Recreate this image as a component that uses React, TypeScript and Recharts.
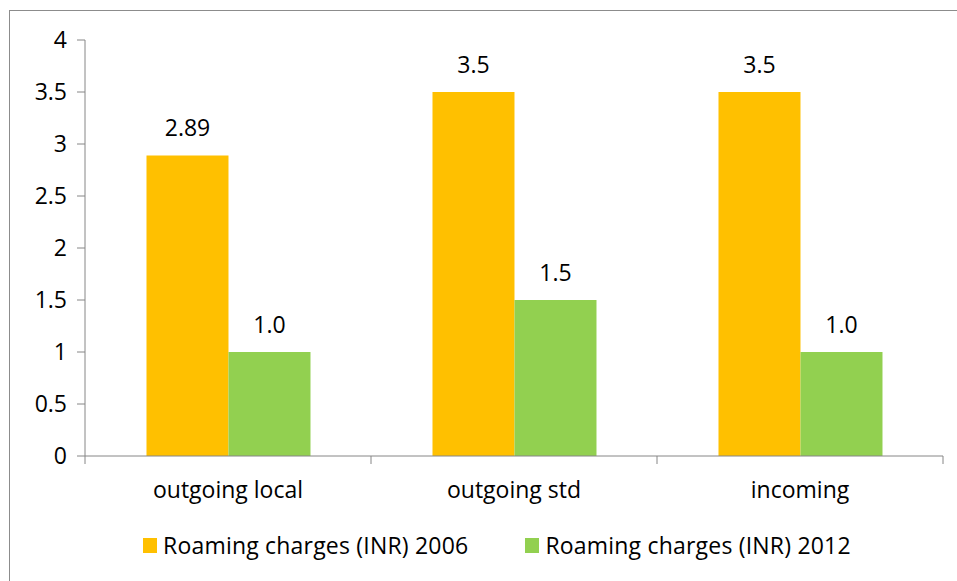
import React from 'react';
import { BarChart, Bar, XAxis, YAxis, Legend, LabelList } from 'recharts';

const categories = ['outgoing local', 'outgoing std', 'incoming'];
const values2006 = [2.89, 3.5, 3.5];
const values2012 = [1.0, 1.5, 1.0];
const labels2006 = ['2.89', '3.5', '3.5'];
const labels2012 = ['1.0', '1.5', '1.0'];
const yTicks = [0, 0.5, 1, 1.5, 2, 2.5, 3, 3.5, 4];
const seriesNames = ['Roaming charges (INR) 2006', 'Roaming charges (INR) 2012'];

const data = categories.map((c, i) => ({
  name: c,
  pos: i + 0.5,
  v2006: values2006[i],
  v2012: values2012[i],
  l2006: labels2006[i],
  l2012: labels2012[i],
}));

const FONT = '"Open Sans", sans-serif';
const FS = 23;
const AXIS = '#868686';
const ORANGE = '#FFC000';
const GREEN = '#92D050';

const LegendContent = () => (
  <div style={{ display: 'flex', justifyContent: 'flex-start', alignItems: 'center', fontFamily: FONT, fontSize: FS, color: '#000', height: 30, paddingLeft: 143 }}>
    {[ORANGE, GREEN].map((col, i) => (
      <div key={i} style={{ display: 'flex', alignItems: 'center', marginLeft: i === 0 ? 0 : 57 }}>
        <div style={{ width: 14, height: 15, background: col, marginRight: 6 }} />
        <span style={{ whiteSpace: 'nowrap', letterSpacing: 0.2 }}>{seriesNames[i]}</span>
      </div>
    ))}
  </div>
);

export default function App() {
  return (
    <div style={{ position: 'fixed', left: 0, top: 0, width: 957, height: 581, overflow: 'hidden', background: '#fff' }}>
      <div style={{ position: 'absolute', left: 9, top: 10, width: 1000, height: 700, border: '1px solid #8c8c8c' }} />
      <div style={{ position: 'absolute', left: 0, top: 0 }}>
        <BarChart
          width={957}
          height={581}
          data={data}
          margin={{ top: 40, right: 14, left: 0, bottom: 21 }}
          barCategoryGap="21.5%"
          barGap={0}
        >
          <YAxis
            domain={[0, 4]}
            ticks={yTicks}
            width={85}
            axisLine={{ stroke: AXIS }}
            tickLine={{ stroke: AXIS }}
            tickSize={8}
            tickMargin={10}
            tick={{ fill: '#000', fontFamily: FONT, fontSize: FS }}
          />
          <XAxis
            xAxisId="a"
            type="number"
            dataKey="pos"
            domain={[0, 3]}
            ticks={[0, 1, 2, 3]}
            height={1}
            axisLine={{ stroke: AXIS }}
            tickLine={{ stroke: AXIS }}
            tickSize={8}
            tick={() => <g />}
          />
          <XAxis
            xAxisId="b"
            dataKey="name"
            height={73}
            axisLine={false}
            tickLine={false}
            tickSize={0}
            tickMargin={25}
            tick={{ fill: '#000', fontFamily: FONT, fontSize: FS }}
          />
          <Legend verticalAlign="bottom" content={<LegendContent />} />
          <Bar xAxisId="b" dataKey="v2006" fill={ORANGE} isAnimationActive={false}>
            <LabelList dataKey="l2006" position="top" offset={19} fill="#000" fontFamily={FONT} fontSize={FS} />
          </Bar>
          <Bar xAxisId="b" dataKey="v2012" fill={GREEN} isAnimationActive={false}>
            <LabelList dataKey="l2012" position="top" offset={19} fill="#000" fontFamily={FONT} fontSize={FS} />
          </Bar>
        </BarChart>
      </div>
    </div>
  );
}
